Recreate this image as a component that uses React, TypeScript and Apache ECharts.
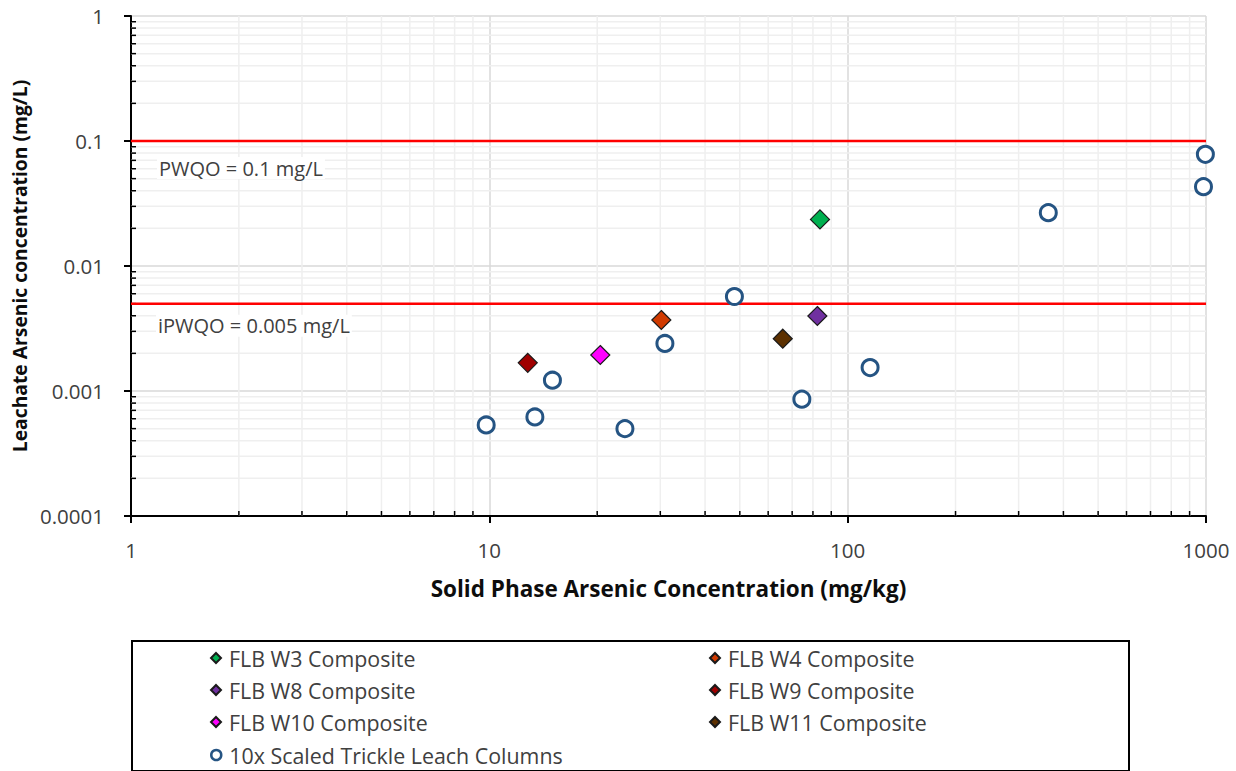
import React, { useEffect, useRef } from "react";
import * as echarts from "echarts";

// ---- data ----
const xTickLabels = ["1", "10", "100", "1000"];
const yTickLabels = ["0.0001", "0.001", "0.01", "0.1", "1"];
const xMinor = [2, 3, 4, 5, 6, 7, 8, 9, 20, 30, 40, 50, 60, 70, 80, 90, 200, 300, 400, 500, 600, 700, 800, 900];
const yMinor = [
  0.0002, 0.0003, 0.0004, 0.0005, 0.0006, 0.0007, 0.0008, 0.0009,
  0.002, 0.003, 0.004, 0.005, 0.006, 0.007, 0.008, 0.009,
  0.02, 0.03, 0.04, 0.05, 0.06, 0.07, 0.08, 0.09,
  0.2, 0.3, 0.4, 0.5, 0.6, 0.7, 0.8, 0.9,
];

const w3 = [[83.7, 0.0236]];
const w4 = [[30.2, 0.0037]];
const w8 = [[82.3, 0.00398]];
const w9 = [[12.8, 0.00168]];
const w10 = [[20.4, 0.00194]];
const w11 = [[65.9, 0.00262]];
const trickle = [
  [9.8, 0.000535],
  [13.4, 0.00062],
  [15.0, 0.00122],
  [23.9, 0.0005],
  [30.9, 0.0024],
  [48.3, 0.0057],
  [74.5, 0.00086],
  [115.5, 0.00154],
  [363, 0.0267],
  [984, 0.0431],
  [996, 0.0782],
];

const pwqo = 0.1;
const ipwqo = 0.005;
const pwqoLabel = "PWQO = 0.1 mg/L";
const ipwqoLabel = "iPWQO = 0.005 mg/L";

const legendCol1 = ["FLB W3 Composite", "FLB W8 Composite", "FLB W10 Composite", "10x Scaled Trickle Leach Columns"];
const legendCol2 = ["FLB W4 Composite", "FLB W9 Composite", "FLB W11 Composite"];

const FONT = "'Open Sans', 'Noto Sans', sans-serif";

export default function App() {
  const ref = useRef<HTMLDivElement>(null);

  useEffect(() => {
    document.body.style.margin = "0";
    if (!ref.current) return;
    const chart = echarts.init(ref.current, undefined, { renderer: "svg" });

    const diamond = (name: string, data: number[][], color: string) => ({
      name,
      type: "scatter",
      data,
      symbol: "diamond",
      symbolSize: 19,
      z: 5,
      itemStyle: { color, borderColor: "#1a1a1a", borderWidth: 1.2, opacity: 1 },
    });

    const minorX = {
      type: "custom",
      silent: true,
      z: 1,
      data: xMinor.map((v) => [v, 0.001]),
      renderItem: (params: any, api: any) => {
        const cs = params.coordSys;
        const p = api.coord([api.value(0), api.value(1)]);
        const x = p[0];
        return {
          type: "group",
          children: [
            { type: "line", shape: { x1: x, y1: cs.y, x2: x, y2: cs.y + cs.height }, style: { stroke: "#efefef", lineWidth: 1.5 } },
            { type: "line", z2: 10, shape: { x1: x, y1: cs.y + cs.height, x2: x, y2: cs.y + cs.height - 5 }, style: { stroke: "#000", lineWidth: 1.5 } },
          ],
        };
      },
    };

    const minorY = {
      type: "custom",
      silent: true,
      z: 1,
      data: yMinor.map((v) => [10, v]),
      renderItem: (params: any, api: any) => {
        const cs = params.coordSys;
        const p = api.coord([api.value(0), api.value(1)]);
        const y = p[1];
        return {
          type: "group",
          children: [
            { type: "line", shape: { x1: cs.x, y1: y, x2: cs.x + cs.width, y2: y }, style: { stroke: "#efefef", lineWidth: 1.5 } },
            { type: "line", z2: 10, shape: { x1: cs.x, y1: y, x2: cs.x + 5, y2: y }, style: { stroke: "#000", lineWidth: 1.5 } },
          ],
        };
      },
    };

    const hline = (v: number) => ({
      type: "line",
      silent: true,
      z: 3,
      symbol: "none",
      data: [[1, v], [1000, v]],
      lineStyle: { color: "#ff0000", width: 2.5 },
    });

    const legendText = { fontSize: 21.4, color: "#404040", fontFamily: FONT, lineHeight: 22, padding: [0, 0, 0, 3] };
    const rowCenters = [658, 690, 722, 755];
    const mkLegend = (name: string, left: number, row: number) => ({
      orient: "horizontal",
      left,
      top: rowCenters[row] - 11,
      itemWidth: 10,
      itemHeight: 10,
      padding: 0,
      selectedMode: false,
      textStyle: legendText,
      data: [name.startsWith("10x") ? { name, itemStyle: { borderWidth: 2.5 } } : { name }],
    });

    const legends = [
      ...legendCol1.map((n, i) => mkLegend(n, 210, i)),
      ...legendCol2.map((n, i) => mkLegend(n, 709, i)),
    ];

    const boxRect = {
      type: "rect",
      shape: { x: 132, y: 641, width: 997, height: 130 },
      style: { fill: "none", stroke: "#000", lineWidth: 2 },
      silent: true,
    };

    chart.setOption({
      animation: false,
      textStyle: { fontFamily: FONT },
      grid: { left: 131, top: 16, width: 1075, height: 500 },
      xAxis: {
        type: "log",
        logBase: 10,
        min: 1,
        max: 1000,
        name: "Solid Phase Arsenic Concentration (mg/kg)",
        nameLocation: "middle",
        nameGap: 61,
        nameTextStyle: { fontSize: 22.5, fontWeight: "bold", color: "#0d0d0d", fontFamily: FONT },
        axisLine: { lineStyle: { color: "#000", width: 2 } },
        axisTick: { show: true, length: 7, inside: false, lineStyle: { color: "#000", width: 2 } },
        axisLabel: {
          fontSize: 20.5,
          color: "#404040",
          margin: 23,
          formatter: (v: number) => xTickLabels[Math.round(Math.log10(v))] ?? "",
        },
        splitLine: { show: true, lineStyle: { color: "#d9d9d9", width: 1.5 } },
      },
      yAxis: {
        type: "log",
        logBase: 10,
        min: 0.0001,
        max: 1,
        name: "Leachate Arsenic concentration (mg/L)",
        nameLocation: "middle",
        nameGap: 91,
        nameTextStyle: { fontSize: 19.3, fontWeight: "bold", color: "#0d0d0d", fontFamily: FONT },
        axisLine: { lineStyle: { color: "#000", width: 2 } },
        axisTick: { show: true, length: 7, inside: false, lineStyle: { color: "#000", width: 2 } },
        axisLabel: {
          fontSize: 20.5,
          color: "#404040",
          margin: 27,
          formatter: (v: number) => yTickLabels[Math.round(Math.log10(v)) + 4] ?? "",
        },
        splitLine: { show: true, lineStyle: { color: "#d9d9d9", width: 1.5 } },
      },
      legend: legends,
      graphic: [boxRect],
      series: [
        minorX,
        minorY,
        hline(pwqo),
        hline(ipwqo),
        diamond("FLB W3 Composite", w3, "#00b050"),
        diamond("FLB W4 Composite", w4, "#d03a00"),
        diamond("FLB W8 Composite", w8, "#7030a0"),
        diamond("FLB W9 Composite", w9, "#a00000"),
        diamond("FLB W10 Composite", w10, "#ff00ff"),
        diamond("FLB W11 Composite", w11, "#5c3000"),
        {
          name: "10x Scaled Trickle Leach Columns",
          type: "scatter",
          data: trickle,
          symbol: "circle",
          symbolSize: 16,
          z: 5,
          itemStyle: { color: "#ffffff", borderColor: "#255483", borderWidth: 3, opacity: 1 },
        },
      ],
    });

    const p1 = chart.convertToPixel({ gridIndex: 0 }, [1, pwqo]) as number[];
    const p2 = chart.convertToPixel({ gridIndex: 0 }, [1, ipwqo]) as number[];
    const labelStyle = {
      fontSize: 20,
      fill: "#404040",
      fontFamily: FONT,
      verticalAlign: "middle",
      backgroundColor: "#ffffff",
      padding: [1, 2, 1, 2],
    };
    chart.setOption({
      graphic: [
        boxRect,
        {
          type: "text",
          x: p1[0] + 26,
          y: p1[1] + 27,
          z: 4,
          style: { ...labelStyle, text: pwqoLabel },
          silent: true,
        },
        {
          type: "text",
          x: p2[0] + 25,
          y: p2[1] + 22,
          z: 4,
          style: { ...labelStyle, text: ipwqoLabel },
          silent: true,
        },
      ],
    });

    return () => chart.dispose();
  }, []);

  return <div ref={ref} style={{ width: 1236, height: 771 }} />;
}
